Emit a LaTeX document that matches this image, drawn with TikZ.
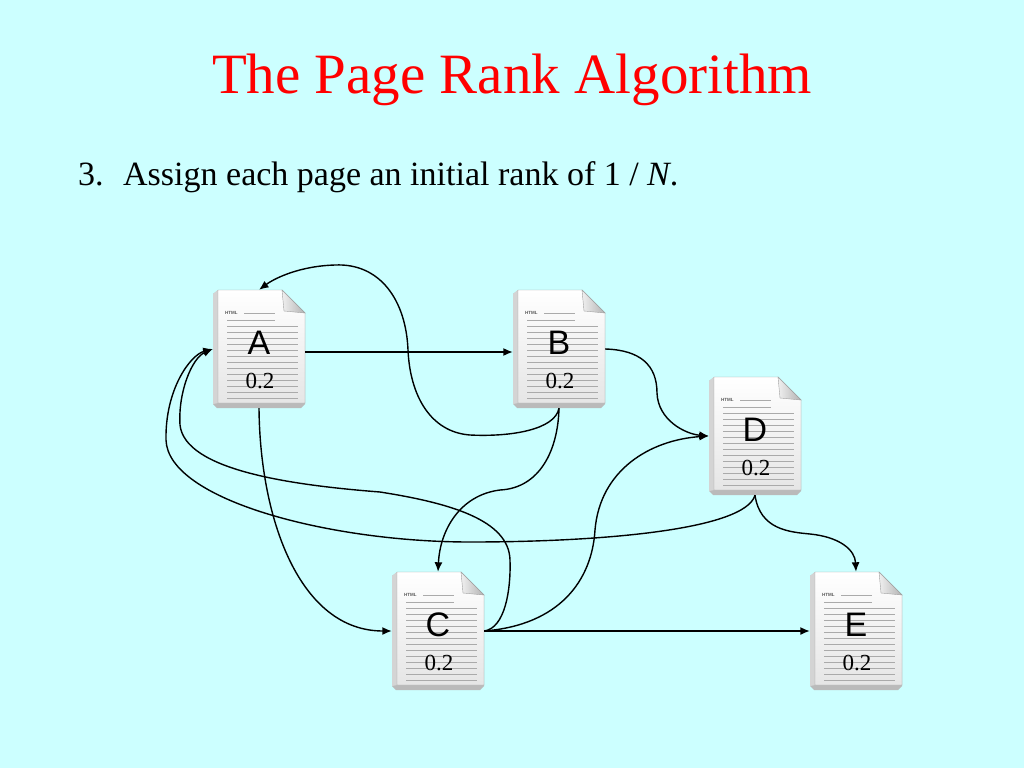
\documentclass[tikz,border=0pt]{standalone}
\usepackage{fontspec}
\setmainfont{Liberation Serif}
\setsansfont{Liberation Sans}
\usetikzlibrary{arrows.meta,calc}
\definecolor{bg}{RGB}{204,255,255}
\definecolor{titlered}{RGB}{255,0,0}
\definecolor{slab}{RGB}{186,186,186}
\definecolor{slabl}{RGB}{212,212,212}
\definecolor{edgegray}{RGB}{160,160,160}
\definecolor{linegray}{RGB}{170,170,170}
\tikzset{
  docnode/.style={minimum width=92pt, minimum height=118pt, inner sep=0pt},
  letter/.style={font=\sffamily\fontsize{34}{34}\selectfont, inner sep=0pt},
  val/.style={font=\fontsize{23}{23}\selectfont, inner sep=0pt},
  link/.style={line width=1.4pt, -{Latex[length=9.5pt,width=8pt]}},
  docline/.style={linegray, line width=0.6pt},
  docicon/.pic={
    \fill[slab] (5,0) -- (0,4) -- (0,114) -- (4,118) -- (88,118) -- (92,114) -- (92,23) -- (69,0) -- cycle;
    \fill[slabl] (5,0) -- (0,4) -- (0,114) -- (5,113) -- cycle;
    \shadedraw[top color=white, bottom color=black!10, draw=edgegray, line width=0.4pt]
      (5,0) -- (69,0) -- (92,23) -- (92,113) -- (5,113) -- cycle;
    \shadedraw[left color=black!6, right color=black!30, draw=edgegray, line width=0.4pt]
      (69,0) -- (71,21) -- (92,23) -- cycle;
    \node[font=\sffamily\bfseries\fontsize{4.5}{5}\selectfont, text=black!65, anchor=west, inner sep=0pt] (-html) at (12,23) {HTML};
    \draw[docline] (31,23) -- (62,23);
    \draw[docline] (14,30) -- (62,30);
    \foreach \yy in {36,42,...,108} {\draw[docline] (14,\yy) -- (85,\yy);}
  }
}
\begin{document}
\begin{tikzpicture}[x=1pt,y=-1pt]
\useasboundingbox (0,0) rectangle (1024,768);
\fill[bg] (0,0) rectangle (1024,768);

% title and text
\node[anchor=base, font=\fontsize{57}{57}\selectfont, text=titlered, inner sep=0pt] (title) at (512,93) {The Page Rank Algorithm};
\node[anchor=base west, font=\fontsize{34}{34}\selectfont, inner sep=0pt] (num) at (78,185) {3.};
\node[anchor=base west, font=\fontsize{34}{34}\selectfont, inner sep=0pt] (step) at (123,185) {Assign each page an initial rank of 1 / \textit{N}.};

% icons
\pic (iA) at (213,290) {docicon};
\pic (iB) at (513,290) {docicon};
\pic (iD) at (709,377) {docicon};
\pic (iC) at (392,572) {docicon};
\pic (iE) at (810,572) {docicon};

% page nodes
\node[docnode] (A) at (259,349) {};
\node[docnode] (B) at (559,349) {};
\node[docnode] (D) at (755,436) {};
\node[docnode] (C) at (438,631) {};
\node[docnode] (E) at (856,631) {};

\foreach \n/\t in {A/A,B/B,C/C,D/D,E/E} {
  \node[letter] (\n l) at ($(\n)+(0,-6)$) {\t};
  \node[val] (\n v) at ($(\n)+(1,32)$) {0.2};
}

% links
\draw[link] ($(A.east)+(0,3)$) -- ($(B.west)+(0,3)$);
\draw[link] (B.south) .. controls (555,430) and (510,437) .. (470,435)
  .. controls (430,432) and (410,395) .. (408,350)
  .. controls (406,300) and (380,263) .. (335,265)
  .. controls (300,266) and (275,278) .. (A.north);
\draw[link] (B.east) .. controls (640,350) and (657,365) .. (657,393)
  .. controls (658,420) and (685,434) .. (D.west);
\draw[link] (B.south) .. controls (558,450) and (540,488) .. (500,490)
  .. controls (460,495) and (440,530) .. (C.north);
\draw[link] (A.south) .. controls (260,520) and (300,631) .. (C.west);
\draw[link] (C.east) .. controls (505,628) and (511,590) .. (510,560)
  .. controls (509,520) and (450,503) .. (380,492)
  .. controls (290,485) and (185,470) .. (180,425)
  .. controls (178,392) and (192,358) .. (A.west);
\draw[link] (D.south) .. controls (745,530) and (600,542) .. (470,542)
  .. controls (330,542) and (168,500) .. (166,440)
  .. controls (165,390) and (190,355) .. (A.west);
\draw[link] (C.east) .. controls (560,625) and (592,580) .. (595,530)
  .. controls (600,470) and (650,440) .. (D.west);
\draw[link] (C.east) -- (E.west);
\draw[link] (D.south) .. controls (760,530) and (790,532) .. (810,534)
  .. controls (840,537) and (855,550) .. (E.north);
\end{tikzpicture}
\end{document}
